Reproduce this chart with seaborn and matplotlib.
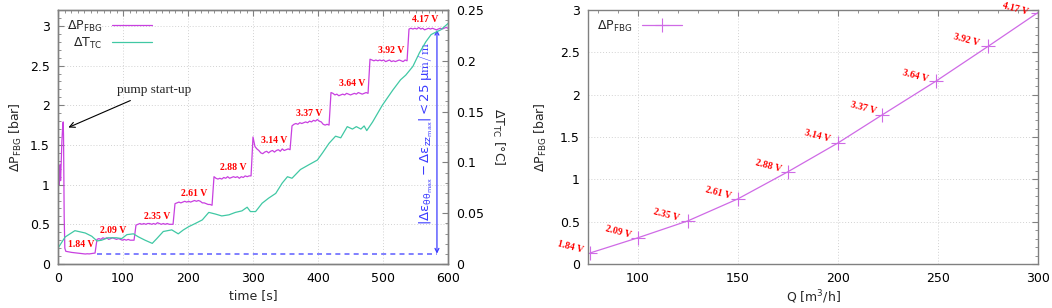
import numpy as np
import matplotlib
matplotlib.use("Agg")
import matplotlib.pyplot as plt
from matplotlib.ticker import MultipleLocator, FormatStrFormatter
import seaborn as sns

sns.set_theme(style="white")
plt.rcParams['font.family'] = ['DejaVu Sans']
plt.rcParams['mathtext.default'] = 'regular'
plt.rcParams['font.size'] = 9

# ---- left panel: pressure steps over time ----
startup_t = [0, 1, 1.5, 2, 3, 4, 5, 6, 7, 8, 8.5, 9.5, 10.5, 12]
startup_p = [0.88, 1.2, 1.22, 1.0, 1.25, 1.05, 1.3, 1.55, 1.7, 1.79, 1.62, 0.6, 0.2, 0.16]

# sampled every 3 s from 15 s to 600 s
step_p = [
    # 1.84 V
    0.155, 0.150, 0.146, 0.143, 0.140, 0.137, 0.133, 0.130, 0.128, 0.126, 0.129, 0.127, 0.131, 0.135, 0.138,
    # 2.09 V
    0.31, 0.32, 0.31, 0.33, 0.32, 0.33, 0.31, 0.32, 0.33, 0.32, 0.31, 0.32, 0.31, 0.30, 0.31, 0.30, 0.31, 0.30, 0.30, 0.30,
    # 2.35 V
    0.49, 0.50, 0.51, 0.50, 0.51, 0.50, 0.51, 0.51, 0.50, 0.51, 0.50, 0.52, 0.51, 0.50, 0.51, 0.50, 0.51, 0.50, 0.50, 0.50,
    # 2.61 V
    0.76, 0.77, 0.78, 0.77, 0.78, 0.79, 0.78, 0.79, 0.78, 0.79, 0.80, 0.79, 0.80, 0.79, 0.77, 0.77, 0.76, 0.75, 0.75, 0.74,
    # 2.88 V
    1.10, 1.08, 1.07, 1.08, 1.07, 1.09, 1.08, 1.10, 1.08, 1.09, 1.10, 1.09, 1.10, 1.08, 1.10, 1.09, 1.11, 1.10, 1.11, 1.11,
    # 3.14 V
    1.60, 1.48, 1.45, 1.43, 1.40, 1.39, 1.41, 1.42, 1.40, 1.42, 1.43, 1.41, 1.43, 1.44, 1.42, 1.45, 1.43, 1.44, 1.45, 1.44,
    # 3.37 V
    1.74, 1.76, 1.77, 1.76, 1.78, 1.77, 1.78, 1.79, 1.78, 1.80, 1.79, 1.81, 1.80, 1.82, 1.80, 1.79, 1.76, 1.75, 1.76, 1.75,
    # 3.64 V
    2.16, 2.15, 2.13, 2.14, 2.12, 2.13, 2.14, 2.13, 2.15, 2.14, 2.13, 2.14, 2.15, 2.14, 2.16, 2.15, 2.14, 2.15, 2.16, 2.15,
    # 3.92 V
    2.58, 2.57, 2.56, 2.57, 2.56, 2.57, 2.56, 2.57, 2.55, 2.56, 2.57, 2.55, 2.56, 2.55, 2.56, 2.57, 2.56, 2.55, 2.57, 2.56,
    # 4.17 V
    2.96, 2.97, 2.96, 2.97, 2.96, 2.98, 2.96, 2.97, 2.95, 2.96, 2.97, 2.96, 2.97, 2.96, 2.95, 2.96, 2.97, 2.96, 2.97, 2.98, 2.97,
]
step_t = np.arange(15, 601, 3)

temp_t = [0, 11, 26, 42, 52, 60, 67, 77, 90, 98, 106, 116, 124, 134, 145, 152, 162, 175, 185, 193,
          201, 211, 222, 232, 242, 252, 263, 273, 283, 291, 296, 304, 314, 324, 335, 345, 353, 360,
          373, 386, 399, 407, 417, 427, 435, 445, 453, 459, 466, 471, 475, 484, 499, 515, 527, 535,
          540, 546, 556, 566, 574, 581, 589, 600]
temp_dT = [0.0156, 0.0266, 0.0328, 0.0305, 0.0273, 0.0227, 0.0234, 0.0258, 0.0258, 0.0250, 0.0289,
           0.0297, 0.0266, 0.0234, 0.0203, 0.0250, 0.0320, 0.0336, 0.0297, 0.0336, 0.0367, 0.0398,
           0.0434, 0.0508, 0.0492, 0.0473, 0.0484, 0.0508, 0.0523, 0.0559, 0.0516, 0.0516, 0.0598,
           0.0648, 0.0695, 0.0797, 0.0859, 0.0844, 0.0930, 0.0977, 0.1023, 0.1094, 0.1188, 0.1258,
           0.1242, 0.1352, 0.1328, 0.1352, 0.1328, 0.1359, 0.1313, 0.1398, 0.1563, 0.1711, 0.1813,
           0.1859, 0.1898, 0.1945, 0.2078, 0.2188, 0.2258, 0.2281, 0.2305, 0.2367]

volt_labels = ["1.84 V", "2.09 V", "2.35 V", "2.61 V", "2.88 V", "3.14 V", "3.37 V", "3.64 V", "3.92 V", "4.17 V"]
label_t = [35, 85, 152, 209, 270, 332, 386, 453, 512, 565]
label_p = [0.24, 0.42, 0.60, 0.89, 1.21, 1.555, 1.89, 2.28, 2.69, 3.08]

# ---- right panel: pressure vs flow ----
flow_q = [76, 100, 125, 150, 175, 200, 222, 249, 275, 300]
flow_p = [0.13, 0.31, 0.51, 0.77, 1.09, 1.43, 1.76, 2.16, 2.57, 2.97]
flow_lab_q = [66, 90, 114, 140, 165, 189.7, 212.7, 238.5, 264, 288.5]
flow_lab_p = [0.20, 0.38, 0.58, 0.84, 1.16, 1.51, 1.84, 2.22, 2.64, 3.01]

purple = "#c840e0"
purple_r = "#cf6ae6"
teal = "#40c8a4"
blue = "#3c3cff"
border = "#808080"
gridc = "#d2d2d2"

p_t = list(startup_t) + list(step_t)
p_val = list(startup_p) + step_p

fig = plt.figure(figsize=(10.52, 3.08), dpi=100)
ax1 = fig.add_axes([58/1052, 44/308, 390/1052, 254/308])
ax3 = fig.add_axes([588/1052, 44/308, 450/1052, 254/308])
ax2 = ax1.twinx()


def style(ax):
    for s in ax.spines.values():
        s.set_color(border)
        s.set_linewidth(1.0)
    ax.tick_params(which='both', direction='in', color=border, labelcolor='black', labelsize=9)
    ax.tick_params(which='major', length=4.5, width=0.8, pad=6)
    ax.tick_params(which='minor', length=2.5, width=0.6)


sns.lineplot(x=p_t, y=p_val, ax=ax1, color=purple, lw=0.9, label=r"$\Delta$P$_{FBG}$", legend=False)
sns.lineplot(x=temp_t, y=temp_dT, ax=ax2, color=teal, lw=0.9, label=r"$\Delta$T$_{TC}$", legend=False)

ax1.set_xlim(0, 600)
ax1.set_ylim(0, 3.2)
ax2.set_ylim(0, 0.25)
ax1.xaxis.set_major_locator(MultipleLocator(100))
ax1.xaxis.set_minor_locator(MultipleLocator(10))
ax1.yaxis.set_major_locator(MultipleLocator(0.5))
ax1.yaxis.set_minor_locator(MultipleLocator(0.1))
ax1.yaxis.set_major_formatter(FormatStrFormatter('%g'))
ax2.yaxis.set_major_locator(MultipleLocator(0.05))
ax2.yaxis.set_minor_locator(MultipleLocator(0.01))
ax2.yaxis.set_major_formatter(FormatStrFormatter('%g'))
style(ax1)
style(ax2)
ax1.tick_params(which='both', top=True, right=False)
ax1.grid(True, which='major', color=gridc, linestyle=(0, (1, 2)), lw=0.7)
ax1.set_axisbelow(True)
ax1.set_xlabel("time [s]", fontsize=9, labelpad=3)
ax1.set_ylabel(r"$\Delta$P$_{FBG}$ [bar]", fontsize=9, labelpad=4)
ax2.set_ylabel(r"$\Delta$T$_{TC}$ [°C]", fontsize=9, rotation=270, labelpad=16)

for lab, x, y in zip(volt_labels, label_t, label_p):
    ax1.text(x, y, lab, color='red', fontsize=7, fontweight='bold', family='Liberation Serif',
             ha='center', va='center', zorder=5)

ax1.annotate("pump start-up", xy=(16, 1.72), xytext=(91, 2.19), fontsize=9.5,
             family='Liberation Serif', va='center', ha='left',
             arrowprops=dict(arrowstyle='->', color='black', lw=0.8, shrinkA=2, shrinkB=0))

ax1.plot([60, 583], [0.13, 0.13], color='#6a6aff', lw=1.2, ls=(0, (3, 2.5)))
ax1.annotate("", xy=(583, 0.13), xytext=(583, 2.95),
             arrowprops=dict(arrowstyle='<->', color=blue, lw=0.9, shrinkA=0, shrinkB=0,
                             mutation_scale=7))
ax1.text(565, 1.65, r"$|\Delta\varepsilon_{\theta\theta_{max}} - \Delta\varepsilon_{zz_{max}}| < 25\ \mu\mathrm{m/m}$",
         color=blue, rotation=90, fontsize=9.5, ha='center', va='center', math_fontfamily='cm')

h1, l1 = ax1.get_legend_handles_labels()
h2, l2 = ax2.get_legend_handles_labels()
ax2.legend(h1 + h2, l1 + l2, loc='upper left', frameon=False, markerfirst=False,
           fontsize=9, handlelength=3.2, borderaxespad=0.3, labelspacing=0.15,
           bbox_to_anchor=(0.0, 1.0))

# ---- right panel ----
sns.lineplot(x=flow_q, y=flow_p, ax=ax3, color=purple_r, lw=0.9, marker='+', markersize=10,
             markeredgewidth=0.8, markeredgecolor=purple_r, label=r"$\Delta$P$_{FBG}$", legend=False)
ax3.set_xlim(75, 300)
ax3.set_ylim(0, 3)
ax3.xaxis.set_major_locator(MultipleLocator(50))
ax3.xaxis.set_minor_locator(MultipleLocator(10))
ax3.yaxis.set_major_locator(MultipleLocator(0.5))
ax3.yaxis.set_minor_locator(MultipleLocator(0.1))
ax3.yaxis.set_major_formatter(FormatStrFormatter('%g'))
style(ax3)
ax3.tick_params(which='both', top=True, right=True)
ax3.grid(True, which='major', color=gridc, linestyle=(0, (1, 2)), lw=0.7)
ax3.set_axisbelow(True)
ax3.set_xlabel(r"Q [m$^3$/h]", fontsize=9, labelpad=2)
ax3.set_ylabel(r"$\Delta$P$_{FBG}$ [bar]", fontsize=9, labelpad=8)

for lab, x, y in zip(volt_labels, flow_lab_q, flow_lab_p):
    ax3.text(x, y, lab, color='red', fontsize=7, fontweight='bold', family='Liberation Serif',
             ha='center', va='center', rotation=-15, clip_on=False, zorder=5)

ax3.legend(loc='upper left', frameon=False, markerfirst=False, fontsize=9,
           handlelength=3.2, borderaxespad=0.3)

fig.savefig("out.png", dpi=100)
